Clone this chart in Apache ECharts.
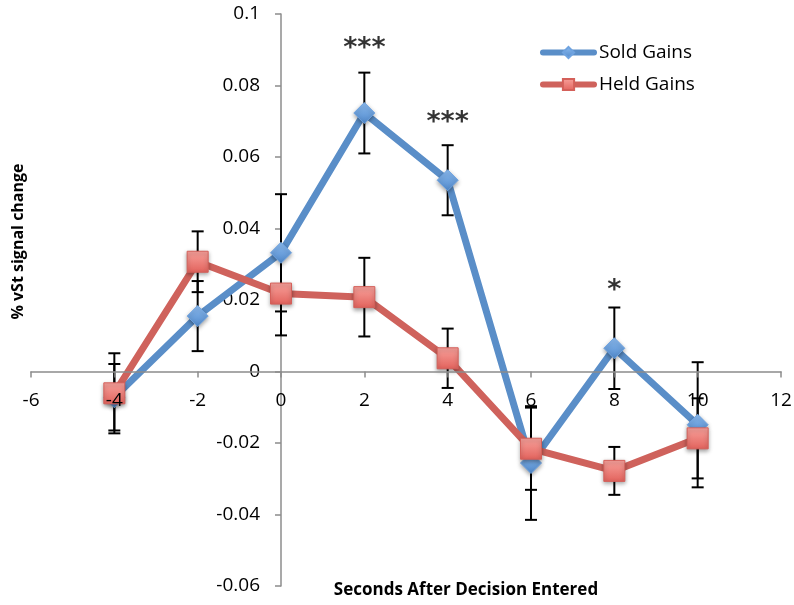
<!DOCTYPE html>
<html>
<head>
<meta charset="utf-8">
<script src="https://cdn.jsdelivr.net/npm/echarts@6/dist/echarts.min.js"></script>
<style>
html,body{margin:0;padding:0;background:#fff;}
#chart{width:794px;height:605px;}
</style>
</head>
<body>
<div id="chart"></div>
<script>
// ---- data ----
const seconds = [-4, -2, 0, 2, 4, 6, 8, 10];
const soldGains = [-0.0072, 0.0155, 0.0332, 0.0723, 0.0535, -0.0256, 0.0065, -0.0149];
const soldErr   = [0.0093, 0.0098, 0.0164, 0.0113, 0.0098, 0.0159, 0.0114, 0.0175];
const heldGains = [-0.0061, 0.0307, 0.0218, 0.0208, 0.0037, -0.0216, -0.0278, -0.0187];
const heldErr   = [0.0112, 0.0085, 0.0117, 0.0110, 0.0083, 0.0115, 0.0067, 0.0112];
const annotX    = [2, 4, 8];
const annotY    = [0.0903, 0.0696, 0.0224];
const annotText = ['***', '***', '*'];
const seriesNames = ['Sold Gains', 'Held Gains'];
const xTitle = 'Seconds After Decision Entered';
const yTitle = '% vSt signal change';
const xMin = -6, xMax = 12, xStep = 2;
const yMin = -0.06, yMax = 0.1, yStep = 0.02;

const FONT = '"Open Sans", Lato, sans-serif';
const W = 794, H = 605;
const G = {left:31, right:13, top:14, bottom:19};
const plotW = W - G.left - G.right, plotH = H - G.top - G.bottom;
// axes cross at zero: shift axes from the grid edge to the zero position
const xAxisOffset = -plotH * (0 - yMin) / (yMax - yMin);
const yAxisOffset = -plotW * (0 - xMin) / (xMax - xMin);

function pairs(xs, ys){ return xs.map((x,i)=>[x, ys[i]]); }
function errData(xs, ys, es){ return xs.map((x,i)=>[x, ys[i]-es[i], ys[i]+es[i]]); }

function errRender(params, api){
  const x = api.value(0), lo = api.value(1), hi = api.value(2);
  const pLo = api.coord([x, lo]), pHi = api.coord([x, hi]);
  const hw = 6;
  const st = {stroke:'#000', lineWidth:2};
  return {type:'group', children:[
    {type:'line', shape:{x1:pHi[0], y1:pHi[1], x2:pLo[0], y2:pLo[1]}, style:st},
    {type:'line', shape:{x1:pHi[0]-hw, y1:pHi[1], x2:pHi[0]+hw, y2:pHi[1]}, style:st},
    {type:'line', shape:{x1:pLo[0]-hw, y1:pLo[1], x2:pLo[0]+hw, y2:pLo[1]}, style:st}
  ]};
}

const blueLine = '#5A8EC8', redLine = '#CF625C';
const blueFill = new echarts.graphic.LinearGradient(0,0,0,1,[{offset:0,color:'#8DBDF2'},{offset:1,color:'#4F87C9'}]);
const redFill  = new echarts.graphic.LinearGradient(0,0,0,1,[{offset:0,color:'#F8A29C'},{offset:1,color:'#E2625C'}]);

const chart = echarts.init(document.getElementById('chart'), null, {renderer:'canvas'});
chart.setOption({
  animation:false,
  backgroundColor:'#fff',
  grid:{left:G.left, right:G.right, top:G.top, bottom:G.bottom, containLabel:false, outerBoundsMode:'none'},
  xAxis:{
    type:'value', min:xMin, max:xMax, interval:xStep, position:'bottom', offset:xAxisOffset, z:10,
    axisLine:{onZero:false, lineStyle:{color:'#8C8C8C', width:1.5}},
    axisTick:{show:true, length:6, lineStyle:{color:'#8C8C8C', width:1.5}},
    axisLabel:{color:'#000', fontFamily:FONT, fontSize:19, margin:20, hideOverlap:false},
    splitLine:{show:false}
  },
  yAxis:{
    type:'value', min:yMin, max:yMax, interval:yStep, position:'left', offset:yAxisOffset,
    axisLine:{show:true, onZero:false, lineStyle:{color:'#8C8C8C', width:1.5}},
    axisTick:{show:true, length:6, lineStyle:{color:'#8C8C8C', width:1.5}},
    axisLabel:{color:'#000', fontFamily:FONT, fontSize:19, margin:21, hideOverlap:false,
      formatter:v=>String(parseFloat(v.toFixed(3)))},
    splitLine:{show:false}
  },
  legend:{
    data:seriesNames, orient:'vertical', left:540, top:43, padding:0,
    itemWidth:51, itemHeight:14, itemGap:13,
    lineStyle:{width:6, cap:'round'},
    textStyle:{color:'#000', fontFamily:FONT, fontSize:19, lineHeight:19}
  },
  graphic:[
    {type:'text', x:466, y:590,
      style:{text:xTitle, font:'bold 17px "Open Sans", sans-serif', fill:'#000', align:'center', verticalAlign:'middle'}},
    {type:'text', x:18.5, y:241.5, rotation:Math.PI/2,
      style:{text:yTitle, font:'bold 16px "Open Sans", sans-serif', fill:'#000', align:'center', verticalAlign:'middle'}}
  ],
  series:[
    {name:'soldErr', type:'custom', renderItem:errRender, data:errData(seconds, soldGains, soldErr),
      encode:{x:0, y:[1,2]}, z:1, silent:true},
    {name:'heldErr', type:'custom', renderItem:errRender, data:errData(seconds, heldGains, heldErr),
      encode:{x:0, y:[1,2]}, z:1, silent:true},
    {name:seriesNames[0], type:'line', data:pairs(seconds, soldGains), z:3,
      symbol:'diamond', symbolSize:21,
      lineStyle:{color:blueLine, width:7, cap:'round', join:'round'},
      itemStyle:{color:blueFill, borderColor:'#6FA3E0', borderWidth:1,
        shadowBlur:4, shadowColor:'rgba(0,0,0,0.35)', shadowOffsetY:2}},
    {name:seriesNames[1], type:'line', data:pairs(seconds, heldGains), z:3,
      symbol:'rect', symbolSize:21,
      lineStyle:{color:redLine, width:7, cap:'round', join:'round'},
      itemStyle:{color:redFill, borderColor:'#D4605A', borderWidth:1,
        shadowBlur:4, shadowColor:'rgba(0,0,0,0.35)', shadowOffsetY:2}},
    {name:'annot', type:'scatter', symbol:'circle', symbolSize:1, z:5, silent:true,
      itemStyle:{color:'rgba(0,0,0,0)'},
      data:annotX.map((x,i)=>({value:[x, annotY[i]], label:{formatter:annotText[i]}})),
      label:{show:true, position:'inside', color:'#000', fontFamily:'"DejaVu Sans", sans-serif', fontWeight:'bold', fontSize:27}}
  ]
});
</script>
</body>
</html>
